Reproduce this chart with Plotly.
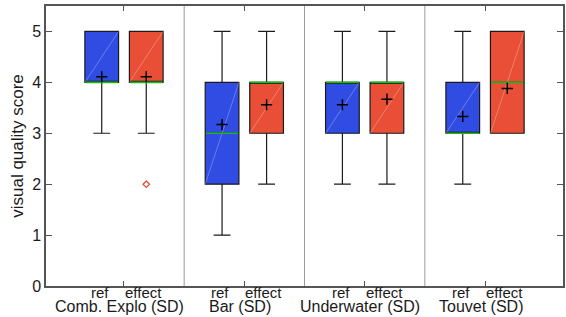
import plotly.graph_objects as go

groups = ["Comb. Explo (SD)", "Bar (SD)", "Underwater (SD)", "Touvet (SD)"]
conditions = ["ref", "effect"]

# stats per group: [ref, effect]
ref_low = [3, 1, 2, 2]
ref_q1 = [4, 2, 3, 3]
ref_med = [4, 3, 4, 3]
ref_q3 = [5, 4, 4, 4]
ref_high = [5, 5, 5, 5]
ref_mean = [4.11, 3.17, 3.56, 3.33]

eff_low = [3, 2, 2, 3]
eff_q1 = [4, 3, 3, 3]
eff_med = [4, 4, 4, 4]
eff_q3 = [5, 4, 4, 5]
eff_high = [5, 5, 5, 5]
eff_mean = [4.11, 3.56, 3.67, 3.88]

eff_outlier_group = [1]
eff_outlier_value = [2]

y_ticks = [0, 1, 2, 3, 4, 5]

BLUE = "#304ce2"
RED = "#e84f36"
GREEN = "#1fb41f"
OFF = 0.185
W = 0.28

centers = list(range(1, len(groups) + 1))

fig = go.Figure()

series = [
    (conditions[0], -OFF, BLUE, ref_low, ref_q1, ref_med, ref_q3, ref_high, ref_mean),
    (conditions[1], OFF, RED, eff_low, eff_q1, eff_med, eff_q3, eff_high, eff_mean),
]

for name, off, col, lo, q1, med, q3, hi, mn in series:
    xs = [c + off for c in centers]
    fig.add_trace(go.Box(
        x=xs, q1=q1, median=med, q3=q3, lowerfence=lo, upperfence=hi,
        width=W, whiskerwidth=0.5, fillcolor=col,
        line=dict(color="#1a1a1a", width=1.2), boxpoints=False,
        name=name, showlegend=False, hoverinfo="skip",
    ))
    # faint diagonal artifact
    for x, a, b in zip(xs, q1, q3):
        fig.add_trace(go.Scatter(
            x=[x - W / 2, x + W / 2], y=[a, b], mode="lines",
            line=dict(color="rgba(255,255,255,0.35)", width=0.8),
            showlegend=False, hoverinfo="skip"))
    # median lines
    for x, m in zip(xs, med):
        fig.add_trace(go.Scatter(
            x=[x - W / 2 + 0.005, x + W / 2 - 0.005], y=[m, m], mode="lines",
            line=dict(color=GREEN, width=1.6),
            showlegend=False, hoverinfo="skip"))
    # means
    fig.add_trace(go.Scatter(
        x=xs, y=mn, mode="markers",
        marker=dict(symbol="cross-thin", size=8, line=dict(color="black", width=1.5)),
        showlegend=False, hoverinfo="skip"))

# outliers
fig.add_trace(go.Scatter(
    x=[g + OFF for g in eff_outlier_group], y=eff_outlier_value, mode="markers",
    marker=dict(symbol="diamond-open", size=5, color=RED, line=dict(width=1.3)),
    showlegend=False, hoverinfo="skip"))

# group separators
for c in centers[:-1]:
    fig.add_shape(type="line", x0=c + 0.5, x1=c + 0.5, y0=0, y1=1, yref="y domain",
                  line=dict(color="#9a9a9a", width=1))

# labels below axis
for c, g in zip(centers, groups):
    fig.add_annotation(x=c - 0.2, y=0.014, yref="paper", text=conditions[0],
                       showarrow=False, yanchor="top", font=dict(size=15, color="#1a1a1a"))
    fig.add_annotation(x=c + 0.163, y=0.014, yref="paper", text=conditions[1],
                       showarrow=False, yanchor="top", font=dict(size=15, color="#1a1a1a"))
    fig.add_annotation(x=c - 0.035, y=-0.034, yref="paper", text=g,
                       showarrow=False, yanchor="top", font=dict(size=16, color="#1a1a1a"))

fig.update_layout(
    width=566, height=317,
    margin=dict(l=46, r=3, t=6, b=31, autoexpand=False),
    plot_bgcolor="white", paper_bgcolor="white",
    font=dict(family="Liberation Sans, Arial, sans-serif", size=15, color="#1a1a1a"),
    xaxis=dict(range=[0.352, 4.648], tickvals=centers, ticktext=["", "", "", ""],
               ticks="inside", ticklen=5, tickcolor="#555", mirror="ticks",
               showline=True, linecolor="#555", linewidth=1.5, showgrid=False,
               zeroline=False),
    yaxis=dict(range=[0, 5.5], tickvals=y_ticks, ticks="inside", ticklen=6,
               tickcolor="#555", mirror="ticks", showline=True, linecolor="#555",
               linewidth=1.5, showgrid=False, zeroline=False,
               title=dict(text="visual quality score", standoff=4,
                          font=dict(size=17)),
               tickfont=dict(size=16)),
)

fig.write_html("out.html", config={"displayModeBar": False},
               post_script="document.body.style.margin='0px';")
